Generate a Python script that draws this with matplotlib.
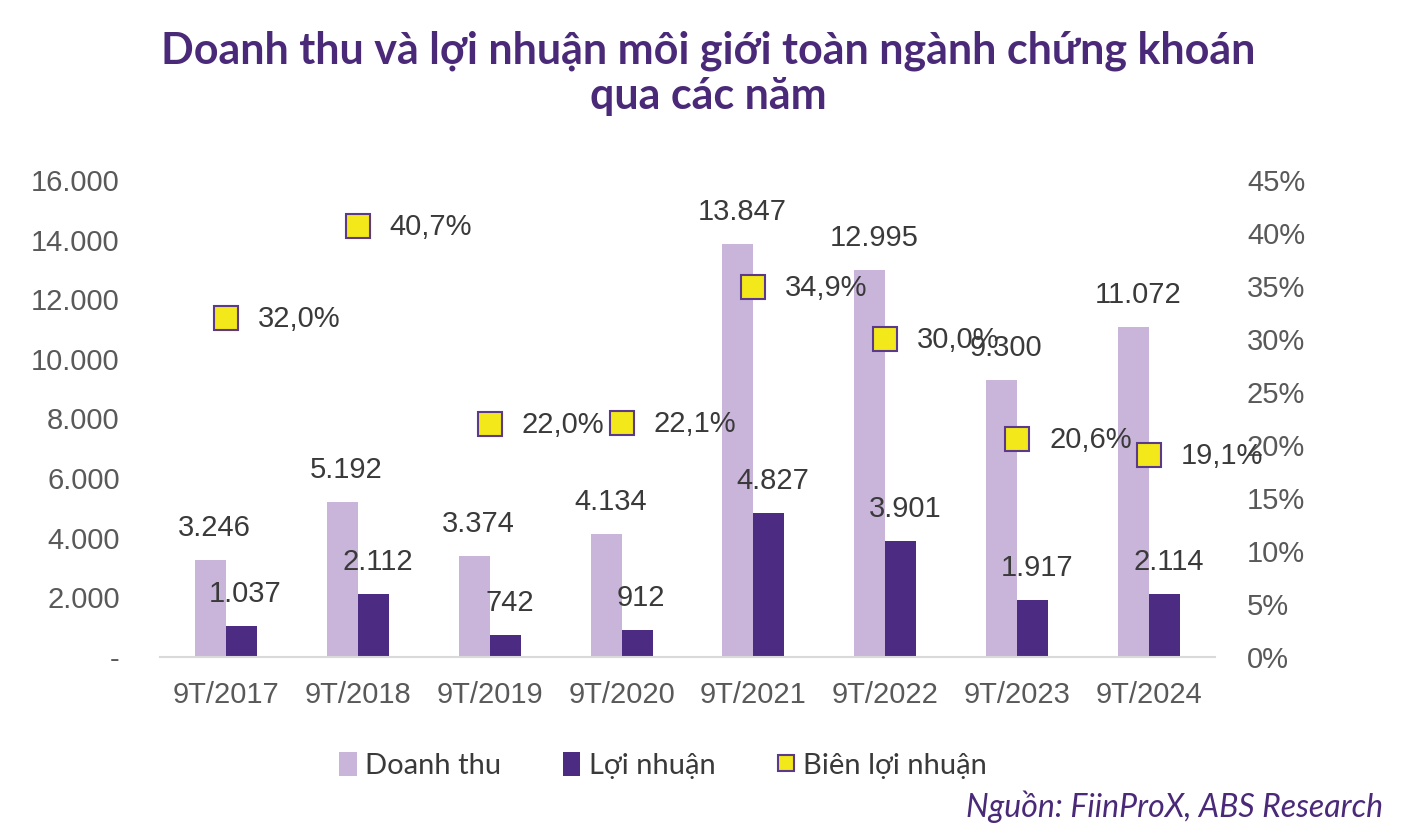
import matplotlib
matplotlib.use("Agg")
import matplotlib.pyplot as plt
from matplotlib.ticker import FuncFormatter, MultipleLocator
from matplotlib.lines import Line2D
from matplotlib.patches import Patch

categories = ["9T/2017", "9T/2018", "9T/2019", "9T/2020", "9T/2021", "9T/2022", "9T/2023", "9T/2024"]
doanh_thu = [3246, 5192, 3374, 4134, 13847, 12995, 9300, 11072]
loi_nhuan = [1037, 2112, 742, 912, 4827, 3901, 1917, 2114]
bien_ln = [0.320, 0.407, 0.220, 0.221, 0.349, 0.300, 0.206, 0.191]

C_LIGHT = "#C9B5DA"
C_DARK = "#4B2C82"
C_YELLOW = "#F2E81A"
C_TITLE = "#4A2A78"
C_TEXT = "#3A3A3A"
C_TICK = "#595959"

plt.rcParams['font.family'] = ['Liberation Sans', 'DejaVu Sans']

fig = plt.figure(figsize=(14.17, 8.33), dpi=100)
ax = fig.add_axes([0.1129, 0.2113, 0.7445, 0.5726])
ax2 = ax.twinx()

x = list(range(len(categories)))
w = 0.235
ax.bar([i - w / 2 for i in x], doanh_thu, width=w, color=C_LIGHT, zorder=2)
ax.bar([i + w / 2 for i in x], loi_nhuan, width=w, color=C_DARK, zorder=2)

ax.set_xlim(-0.5, len(categories) - 0.5)
ax.set_ylim(0, 16000)
ax.yaxis.set_major_locator(MultipleLocator(2000))
ax.yaxis.set_major_formatter(FuncFormatter(lambda v, p: "-" if v == 0 else f"{int(v):,}".replace(",", ".")))
ax.set_xticks(x)
ax.set_xticklabels(categories)

ax2.set_ylim(0, 0.45)
ax2.yaxis.set_major_locator(MultipleLocator(0.05))
ax2.yaxis.set_major_formatter(FuncFormatter(lambda v, p: f"{round(v * 100):d}%"))

for a in (ax, ax2):
    for s in a.spines.values():
        s.set_visible(False)
ax.spines['bottom'].set_visible(True)
ax.spines['bottom'].set_color("#D9D9D9")
ax.spines['bottom'].set_linewidth(1.5)

ax.tick_params(axis='y', length=0, pad=29, labelsize=21, labelcolor=C_TICK)
ax.tick_params(axis='x', length=0, pad=17, labelsize=21, labelcolor=C_TICK)
ax2.tick_params(axis='y', length=0, pad=23, labelsize=21, labelcolor=C_TICK)

ax2.plot(x, bien_ln, linestyle='none', marker='s', markersize=17,
         markerfacecolor=C_YELLOW, markeredgecolor="#5B3A8C", markeredgewidth=1.5, zorder=5)

for i, v in enumerate(doanh_thu):
    ax.annotate(f"{v:,}".replace(",", "."), (i - w / 2, v), xytext=(3, 23), textcoords='offset points',
                ha='center', va='center', fontsize=21, color=C_TEXT, zorder=6)
for i, v in enumerate(loi_nhuan):
    ax.annotate(f"{v:,}".replace(",", "."), (i + w / 2, v), xytext=(3, 23), textcoords='offset points',
                ha='center', va='center', fontsize=21, color=C_TEXT, zorder=6)
for i, v in enumerate(bien_ln):
    ax2.annotate(f"{v * 100:.1f}%".replace(".", ","), (i, v), xytext=(23, -1), textcoords='offset points',
                 ha='left', va='center', fontsize=21, color=C_TEXT, zorder=7)

ax2.set_zorder(ax.get_zorder() + 1)
ax2.patch.set_visible(False)

fig.text(0.5, 0.912, "Doanh thu và lợi nhuận môi giới toàn ngành chứng khoán\nqua các năm",
         ha='center', va='center', fontsize=31, fontweight='bold', color=C_TITLE,
         family=['Lato', 'DejaVu Sans'], linespacing=1.15)

handles = [Patch(facecolor=C_LIGHT, edgecolor='none'),
           Patch(facecolor=C_DARK, edgecolor='none'),
           Line2D([], [], linestyle='none', marker='s', markersize=11, markerfacecolor=C_YELLOW,
                  markeredgecolor="#5B3A8C", markeredgewidth=1.5)]
fig.legend(handles, ["Doanh thu", "Lợi nhuận", "Biên lợi nhuận"], loc='center',
           bbox_to_anchor=(0.468, 0.081), ncol=3, frameon=False,
           handlelength=0.6, handleheight=0.9, handletextpad=0.3, columnspacing=2.1,
           labelcolor=C_TEXT, prop={'family': ['Lato', 'DejaVu Sans'], 'size': 21})

fig.text(0.976, 0.032, "Nguồn: FiinProX, ABS Research", ha='right', va='center', fontsize=23,
         style='italic', color=C_TITLE, family=['Lato', 'DejaVu Sans'])

fig.savefig("out.png", dpi=100)
